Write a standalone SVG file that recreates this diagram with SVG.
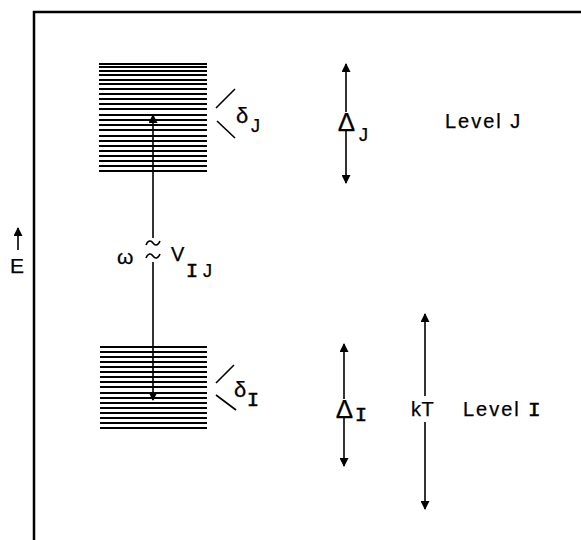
<svg xmlns="http://www.w3.org/2000/svg" width="581" height="540" viewBox="0 0 581 540">
<style>
.fr{fill:none;stroke:#000;stroke-width:2.5}
.lv{stroke:#000;stroke-width:2}
.ln{stroke:#000;stroke-width:1.6;fill:none}
.t{font-family:"Liberation Sans",Arial,sans-serif;fill:#000;stroke:#000;stroke-width:0.25}
.m{font-family:"Liberation Mono","Courier New",monospace;fill:#000;stroke:#000;stroke-width:0.6}
</style>
<defs>
<marker id="ah" viewBox="0 0 10 10" refX="9" refY="5" markerWidth="10" markerHeight="9" markerUnits="userSpaceOnUse" orient="auto-start-reverse">
<path d="M0,0 L10,5 L0,10 z" fill="#000"/>
</marker>
</defs>
<rect width="581" height="540" fill="#fff"/>
<path class="fr" d="M34,540 L34,12 L581,12"/>
<g id="axisE">
<line class="ln" x1="18" y1="250" x2="18" y2="228" marker-end="url(#ah)"/>
<text class="t" x="10" y="273" font-size="21">E</text>
</g>
<g id="levelJ-stack">
<line class="lv" x1="99" y1="64" x2="207" y2="64"/>
<line class="lv" x1="99" y1="67" x2="207" y2="67"/>
<line class="lv" x1="99" y1="71" x2="207" y2="71"/>
<line class="lv" x1="99" y1="75" x2="207" y2="75"/>
<line class="lv" x1="99" y1="80" x2="207" y2="80"/>
<line class="lv" x1="99" y1="84" x2="207" y2="84"/>
<line class="lv" x1="99" y1="89" x2="207" y2="89"/>
<line class="lv" x1="99" y1="94" x2="207" y2="94"/>
<line class="lv" x1="99" y1="99" x2="207" y2="99"/>
<line class="lv" x1="99" y1="104" x2="207" y2="104"/>
<line class="lv" x1="99" y1="109" x2="207" y2="109"/>
<line class="lv" x1="99" y1="115" x2="207" y2="115"/>
<line class="lv" x1="99" y1="120" x2="207" y2="120"/>
<line class="lv" x1="99" y1="125" x2="207" y2="125"/>
<line class="lv" x1="99" y1="130" x2="207" y2="130"/>
<line class="lv" x1="99" y1="136" x2="207" y2="136"/>
<line class="lv" x1="99" y1="141" x2="207" y2="141"/>
<line class="lv" x1="99" y1="146" x2="207" y2="146"/>
<line class="lv" x1="99" y1="151" x2="207" y2="151"/>
<line class="lv" x1="99" y1="156" x2="207" y2="156"/>
<line class="lv" x1="99" y1="161" x2="207" y2="161"/>
<line class="lv" x1="99" y1="166" x2="207" y2="166"/>
<line class="lv" x1="99" y1="171" x2="207" y2="171"/>
</g>
<g id="levelI-stack">
<line class="lv" x1="100" y1="347" x2="207" y2="347"/>
<line class="lv" x1="100" y1="352" x2="207" y2="352"/>
<line class="lv" x1="100" y1="357" x2="207" y2="357"/>
<line class="lv" x1="100" y1="362" x2="207" y2="362"/>
<line class="lv" x1="100" y1="367" x2="207" y2="367"/>
<line class="lv" x1="100" y1="372" x2="207" y2="372"/>
<line class="lv" x1="100" y1="377" x2="207" y2="377"/>
<line class="lv" x1="100" y1="382" x2="207" y2="382"/>
<line class="lv" x1="100" y1="387" x2="207" y2="387"/>
<line class="lv" x1="100" y1="393" x2="207" y2="393"/>
<line class="lv" x1="100" y1="398" x2="207" y2="398"/>
<line class="lv" x1="100" y1="403" x2="207" y2="403"/>
<line class="lv" x1="100" y1="408" x2="207" y2="408"/>
<line class="lv" x1="100" y1="413" x2="207" y2="413"/>
<line class="lv" x1="100" y1="418" x2="207" y2="418"/>
<line class="lv" x1="100" y1="423" x2="207" y2="423"/>
<line class="lv" x1="100" y1="428" x2="207" y2="428"/>
</g>
<g id="connectors">
<line class="ln" x1="153" y1="238" x2="153" y2="115" marker-end="url(#ah)"/>
<line class="ln" x1="153" y1="262" x2="153" y2="400" marker-end="url(#ah)"/>
<path class="ln" d="M146,245 C148,240 151,240 153,243 C155,246 158,246 160,241"/>
<path class="ln" d="M146,258 C148,253 151,253 153,256 C155,259 158,259 160,254"/>
<line class="ln" x1="346" y1="112" x2="346" y2="64" marker-end="url(#ah)"/>
<line class="ln" x1="346" y1="131" x2="346" y2="183" marker-end="url(#ah)"/>
<line class="ln" x1="344" y1="399" x2="344" y2="344" marker-end="url(#ah)"/>
<line class="ln" x1="344" y1="418" x2="344" y2="466" marker-end="url(#ah)"/>
<line class="ln" x1="425" y1="396" x2="425" y2="314" marker-end="url(#ah)"/>
<line class="ln" x1="425" y1="422" x2="425" y2="509" marker-end="url(#ah)"/>
</g>
<g id="coupling-label">
<text class="t" x="117" y="264" font-size="21">ω</text>
<text class="t" x="171" y="261" font-size="20">V</text>
<text class="m" x="186" y="277" font-size="20">I</text>
<text class="t" x="203" y="277" font-size="18">J</text>
</g>
<g id="deltaJ">
<path class="ln" d="M235,89 L216,108 M217,121 L235,138"/>
<text class="t" x="236" y="123" font-size="22">δ</text>
<text class="t" x="251" y="132" font-size="18">J</text>
</g>
<g id="deltaI">
<path class="ln" d="M234,365 L216,383 M216,395 L236,410"/>
<text class="t" x="234" y="397" font-size="22">δ</text>
<text class="m" x="247" y="406" font-size="20">I</text>
</g>
<g id="DeltaJ">
<text class="t" x="346.5" y="131" font-size="26" text-anchor="middle">Δ</text>
<text class="t" x="359" y="141" font-size="18">J</text>
</g>
<g id="DeltaI">
<text class="t" x="344.5" y="418" font-size="26" text-anchor="middle">Δ</text>
<text class="m" x="355" y="421" font-size="20">I</text>
</g>
<g id="labels">
<text class="t" x="445" y="128" font-size="20" letter-spacing="2">Level J</text>
<text class="t" x="411" y="416" font-size="20" letter-spacing="0.5">kT</text>
<text class="t" x="463" y="416" font-size="20" letter-spacing="2">Level</text>
<text class="m" x="528" y="416" font-size="21">I</text>
</g>
</svg>
